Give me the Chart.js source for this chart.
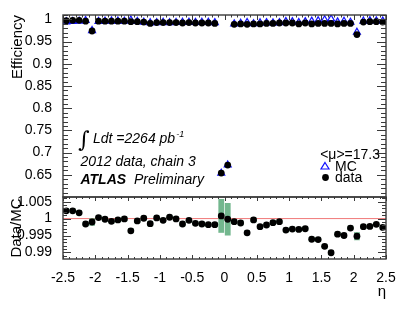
<!DOCTYPE html>
<html>
<head>
<meta charset="utf-8">
<script src="https://cdn.jsdelivr.net/npm/chart.js@4.4.0/dist/chart.umd.min.js"></script>
<style>
  html, body { margin: 0; padding: 0; background: #fff; }
  #wrap { position: relative; width: 407px; height: 318px; }
  #wrap canvas { position: absolute; left: 0; top: 0; }
</style>
</head>
<body>
<div id="wrap">
  <canvas id="effChart" width="407" height="318"></canvas>
  <canvas id="ratioChart" width="407" height="318"></canvas>
</div>
<script>
// eta bin centres (bin width 0.1)
const etaBins = [
  -2.45, -2.35, -2.25, -2.15, -2.05, -1.95, -1.85, -1.75, -1.65, -1.55,
  -1.45, -1.35, -1.25, -1.15, -1.05, -0.95, -0.85, -0.75, -0.65, -0.55,
  -0.45, -0.35, -0.25, -0.15, -0.05, 0.05, 0.15, 0.25, 0.35, 0.45,
  0.55, 0.65, 0.75, 0.85, 0.95, 1.05, 1.15, 1.25, 1.35, 1.45,
  1.55, 1.65, 1.75, 1.85, 1.95, 2.05, 2.15, 2.25, 2.35, 2.45
];

// trigger efficiency, data
const effData = [
  0.997, 0.998, 0.998, 0.996, 0.974, 0.996, 0.996, 0.996, 0.996, 0.996,
  0.995, 0.995, 0.994, 0.991, 0.993, 0.993, 0.993, 0.993, 0.992, 0.993,
  0.992, 0.992, 0.992, 0.991, 0.654, 0.672, 0.989, 0.990, 0.989, 0.990,
  0.990, 0.991, 0.991, 0.992, 0.992, 0.992, 0.990, 0.992, 0.990, 0.991,
  0.991, 0.991, 0.990, 0.991, 0.991, 0.966, 0.994, 0.995, 0.995, 0.994
];

// trigger efficiency, MC
const effMC = [
  0.9947, 0.9957, 0.9963, 0.9976, 0.9750, 0.9957, 0.9962, 0.9968, 0.9964, 0.9961,
  0.9986, 0.9957, 0.9939, 0.9925, 0.9928, 0.9935, 0.9926, 0.9931, 0.9936, 0.9935,
  0.9934, 0.9936, 0.9938, 0.9928, 0.6535, 0.6721, 0.9899, 0.9913, 0.9932, 0.9904,
  0.9924, 0.9929, 0.9922, 0.9929, 0.9954, 0.9951, 0.9932, 0.9950, 0.9961, 0.9972,
  0.9992, 1.0011, 0.9946, 0.9960, 0.9938, 0.9711, 0.9964, 0.9973, 0.9967, 0.9966
];

// data / MC
const ratio = [
  1.0023, 1.0023, 1.0017, 0.9984, 0.9990, 1.0003, 0.9998, 0.9992, 0.9996, 0.9999,
  0.9964, 0.9993, 1.0001, 0.9985, 1.0002, 0.9995, 1.0004, 0.9999, 0.9984, 0.9995,
  0.9986, 0.9984, 0.9982, 0.9982, 1.0008, 0.9998, 0.9991, 0.9987, 0.9958, 0.9996,
  0.9976, 0.9981, 0.9988, 0.9991, 0.9966, 0.9969, 0.9968, 0.9970, 0.9939, 0.9938,
  0.9918, 0.9899, 0.9954, 0.9950, 0.9972, 0.9948, 0.9976, 0.9977, 0.9983, 0.9974
];

// half height of the green uncertainty boxes
const ratioErr = [
  0.0007, 0.0007, 0.0007, 0.0007, 0.0011, 0.0007, 0.0007, 0.0007, 0.0007, 0.0007,
  0.0007, 0.0007, 0.0007, 0.0008, 0.0007, 0.0007, 0.0007, 0.0007, 0.0007, 0.0007,
  0.0007, 0.0007, 0.0007, 0.0007, 0.0050, 0.0048, 0.0007, 0.0007, 0.0007, 0.0007,
  0.0007, 0.0007, 0.0007, 0.0007, 0.0007, 0.0007, 0.0007, 0.0007, 0.0007, 0.0007,
  0.0007, 0.0007, 0.0007, 0.0007, 0.0007, 0.0012, 0.0007, 0.0007, 0.0007, 0.0007
];

const refLine = 1;

const effTicks = [0.65, 0.7, 0.75, 0.8, 0.85, 0.9, 0.95, 1];
const effTickLabels = ['0.65', '0.7', '0.75', '0.8', '0.85', '0.9', '0.95', '1'];
const ratioTicks = [0.99, 0.995, 1, 1.005];
const ratioTickLabels = ['0.99', '0.995', '1', '1.005'];
const etaTicks = [-2.5, -2, -1.5, -1, -0.5, 0, 0.5, 1, 1.5, 2, 2.5];
const etaTickLabels = ['-2.5', '-2', '-1.5', '-1', '-0.5', '0', '0.5', '1', '1.5', '2', '2.5'];

const ink = '#000';
const frameColor = '#3a3a3a';
const sans = '"Liberation Sans", Arial, sans-serif';

// ROOT style frame with ticks pointing inwards
function inwardTicks(cfg) {
  return {
    id: 'inwardTicks',
    afterDatasetsDraw(chart) {
      const { ctx, chartArea: a } = chart;
      const xs = chart.scales.x, ys = chart.scales.y;
      ctx.save();
      ctx.strokeStyle = frameColor;
      ctx.lineWidth = 1;

      for (let i = Math.ceil(ys.min / cfg.yMinor - 1e-6); i * cfg.yMinor <= ys.max + 1e-9; i++) {
        const v = i * cfg.yMinor;
        const major = cfg.yMajor.some(m => Math.abs(m - v) < cfg.yMinor / 10);
        const len = major ? cfg.yLen[0] : cfg.yLen[1];
        const py = Math.round(ys.getPixelForValue(v)) + 0.5;
        ctx.beginPath();
        ctx.moveTo(a.left, py); ctx.lineTo(a.left + len, py);
        ctx.moveTo(a.right, py); ctx.lineTo(a.right - len, py);
        ctx.stroke();
      }

      for (let i = Math.ceil(xs.min / cfg.xMinor - 1e-6); i * cfg.xMinor <= xs.max + 1e-9; i++) {
        const v = i * cfg.xMinor;
        const major = cfg.xMajor.some(m => Math.abs(m - v) < cfg.xMinor / 10);
        const len = major ? cfg.xLen[0] : cfg.xLen[1];
        const px = Math.round(xs.getPixelForValue(v)) + 0.5;
        ctx.beginPath();
        if (cfg.xTop) { ctx.moveTo(px, a.top); ctx.lineTo(px, a.top + len); }
        if (cfg.xBottom) { ctx.moveTo(px, a.bottom); ctx.lineTo(px, a.bottom - len); }
        ctx.stroke();
      }

      ctx.lineWidth = 1.4;
      ctx.strokeRect(a.left, a.top, a.right - a.left, a.bottom - a.top);
      ctx.restore();
    }
  };
}

// labels inside the efficiency panel
const upperText = {
  id: 'upperText',
  afterDraw(chart) {
    const ctx = chart.ctx;
    ctx.save();
    ctx.fillStyle = ink;
    ctx.textBaseline = 'middle';

    ctx.font = 'italic 22px "DejaVu Serif"';
    ctx.fillText('\u222B', 78, 141);
    ctx.font = 'italic 14px ' + sans;
    ctx.fillText('Ldt =2264 pb', 93, 139.5);
    const w = ctx.measureText('Ldt =2264 pb').width;
    ctx.font = 'italic 9px ' + sans;
    ctx.fillText('-1', 93 + w + 1, 134);

    ctx.font = 'italic 14px ' + sans;
    ctx.fillText('2012 data, chain 3', 80.5, 162);
    ctx.font = 'bold italic 14px ' + sans;
    ctx.fillText('ATLAS', 80.5, 180.5);
    ctx.font = 'italic 14px ' + sans;
    ctx.fillText('Preliminary', 134, 180.5);

    // legend
    ctx.font = '14px ' + sans;
    ctx.textAlign = 'right';
    ctx.fillText('<\u03BC>=17.3', 380, 155);
    ctx.textAlign = 'left';
    ctx.fillText('MC', 335, 167);
    ctx.fillText('data', 335, 178);
    ctx.strokeStyle = '#1010ff';
    ctx.lineWidth = 1.2;
    ctx.beginPath();
    ctx.moveTo(325, 162.5); ctx.lineTo(329, 169); ctx.lineTo(321, 169); ctx.closePath();
    ctx.stroke();
    ctx.beginPath();
    ctx.arc(325.5, 177.5, 3.4, 0, Math.PI * 2);
    ctx.fill();
    ctx.restore();
  }
};

new Chart(document.getElementById('effChart'), {
  type: 'scatter',
  data: {
    datasets: [
      {
        label: 'data',
        data: etaBins.map((x, i) => ({ x: x, y: effData[i] })),
        pointStyle: 'circle',
        pointRadius: 3.4,
        backgroundColor: '#000',
        borderColor: '#000',
        borderWidth: 0
      },
      {
        label: 'MC',
        data: etaBins.map((x, i) => ({ x: x, y: effMC[i] })),
        pointStyle: 'triangle',
        pointRadius: 4,
        backgroundColor: 'rgba(0,0,0,0)',
        borderColor: '#1010ff',
        borderWidth: 1.2
      }
    ]
  },
  options: {
    responsive: false,
    animation: false,
    layout: { padding: { left: 0, right: 21, top: 15, bottom: 121 } },
    plugins: { legend: { display: false }, tooltip: { enabled: false } },
    scales: {
      x: { type: 'linear', min: -2.5, max: 2.5, display: false },
      y: {
        min: 0.6,
        max: 1.01,
        afterFit: s => { s.width = 63; },
        afterBuildTicks: s => { s.ticks = effTicks.map(v => ({ value: v })); },
        ticks: {
          callback: (v, i) => effTickLabels[i],
          font: { family: sans, size: 14 },
          color: ink,
          padding: 3
        },
        grid: { display: false },
        border: { display: false },
        title: {
          display: true,
          text: 'Efficiency',
          align: 'end',
          color: ink,
          font: { family: sans, size: 15 },
          padding: { top: 9, bottom: 0 }
        }
      }
    }
  },
  plugins: [
    inwardTicks({ yMinor: 0.01, yMajor: effTicks, yLen: [9, 5], xMinor: 0.1, xMajor: etaTicks, xLen: [5, 2.5], xTop: true, xBottom: false }),
    upperText
  ]
});

new Chart(document.getElementById('ratioChart'), {
  type: 'scatter',
  data: {
    datasets: [
      {
        label: 'Data/MC',
        data: etaBins.map((x, i) => ({ x: x, y: ratio[i] })),
        pointStyle: 'circle',
        pointRadius: 3.4,
        backgroundColor: '#000',
        borderColor: '#000',
        borderWidth: 0
      },
      {
        type: 'bar',
        label: 'uncertainty',
        data: etaBins.map((x, i) => ({ x: x, y: [ratio[i] - ratioErr[i], ratio[i] + ratioErr[i]] })),
        backgroundColor: 'rgba(100,175,130,0.9)',
        borderWidth: 0,
        barPercentage: 0.9,
        categoryPercentage: 1
      },
      {
        type: 'line',
        label: 'unity',
        data: [{ x: -2.5, y: refLine }, { x: 2.5, y: refLine }],
        showLine: true,
        pointRadius: 0,
        borderColor: '#f07878',
        borderWidth: 1
      }
    ]
  },
  options: {
    responsive: false,
    animation: false,
    layout: { padding: { left: 0, right: 21, top: 197, bottom: 0 } },
    plugins: { legend: { display: false }, tooltip: { enabled: false } },
    scales: {
      x: {
        type: 'linear',
        min: -2.5,
        max: 2.5,
        offset: false,
        afterFit: s => { s.height = 59; },
        afterBuildTicks: s => { s.ticks = etaTicks.map(v => ({ value: v })); },
        ticks: {
          callback: (v, i) => etaTickLabels[i],
          font: { family: sans, size: 14 },
          color: ink,
          padding: 3,
          maxRotation: 0,
          autoSkip: false
        },
        grid: { display: false, offset: false },
        border: { display: false },
        title: {
          display: true,
          text: '\u03B7',
          align: 'end',
          color: ink,
          font: { family: sans, size: 15 },
          padding: { top: 0, bottom: 17 }
        }
      },
      y: {
        min: 0.98806,
        max: 1.00638,
        afterFit: s => { s.width = 63; },
        afterBuildTicks: s => { s.ticks = ratioTicks.map(v => ({ value: v })); },
        ticks: {
          callback: (v, i) => ratioTickLabels[i],
          font: { family: sans, size: 14 },
          color: ink,
          padding: 3,
          autoSkip: false
        },
        grid: { display: false },
        border: { display: false },
        title: {
          display: true,
          text: 'Data/MC',
          color: ink,
          font: { family: sans, size: 15 },
          padding: { top: 8, bottom: 0 }
        }
      }
    }
  },
  plugins: [
    inwardTicks({ yMinor: 0.001, yMajor: ratioTicks, yLen: [8, 4], xMinor: 0.1, xMajor: etaTicks, xLen: [4, 2], xTop: true, xBottom: true })
  ]
});
</script>
</body>
</html>
